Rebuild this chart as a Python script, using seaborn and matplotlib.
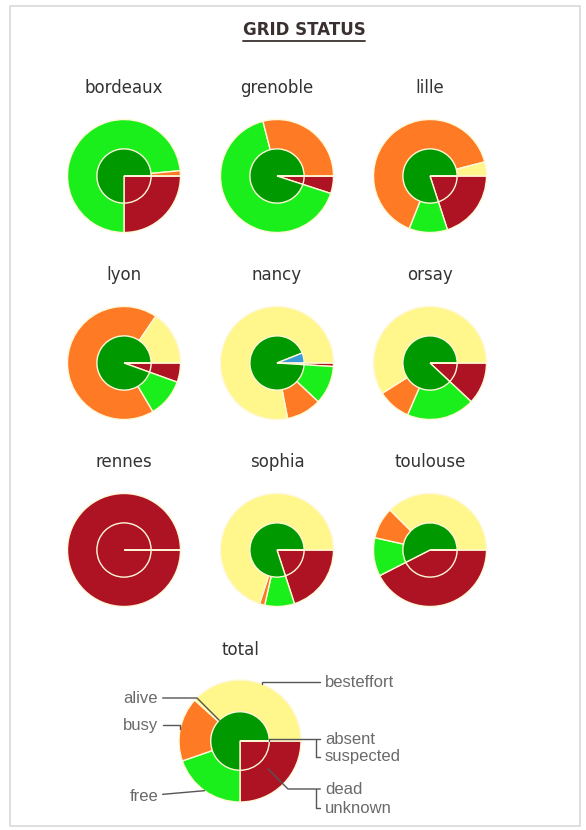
import numpy as np
import matplotlib
matplotlib.use("Agg")

import matplotlib.pyplot as plt
from matplotlib.lines import Line2D
from matplotlib.patches import Rectangle
import seaborn as sns

# Node shares (percent), read clockwise from 3 o'clock.
SITES = ["bordeaux", "grenoble", "lille", "lyon", "nancy",
         "orsay", "rennes", "sophia", "toulouse"]
DEAD = [25, 5, 20, 5.5, 1, 12, 100, 20, 42.5]
FREE = [73.5, 66, 11, 11, 11, 19.5, 0, 8.5, 11]
BUSY = [1.5, 29, 65, 68, 10, 9.5, 0, 1.5, 9]
BESTEFFORT = [0, 0, 4, 15.5, 78, 59, 0, 70, 37.5]
ABSENT = [0, 0, 0, 0, 6, 0, 0, 0, 0]
SUSPECTED = [0, 0, 0, 0, 0, 0, 0, 0, 0]

TOTAL_DEAD = 25
TOTAL_FREE = 19.7
TOTAL_BUSY = 17
TOTAL_BESTEFFORT = 38.3
TOTAL_ABSENT = 0
TOTAL_SUSPECTED = 0

C_DEAD = "#ad1322"
C_FREE = "#1bef1b"
C_BUSY = "#ff7a24"
C_BESTEFFORT = "#fff68c"
C_ALIVE = "#009a00"
C_ABSENT = "#3b9bd8"
C_SUSPECTED = "#d06010"
EDGE = "#fff8d8"

OUTER_COLORS = [C_DEAD, C_FREE, C_BUSY, C_BESTEFFORT]
INNER_COLORS = [C_DEAD, C_ALIVE, C_ABSENT, C_SUSPECTED]

W, H = 586, 830
R_IN = 0.48


def fx(x):
    return x / W


def fy(y):
    return 1 - y / H


def draw_pie(fig, cx, cy, r, outer, inner):
    side = 2 * r * 1.05
    ax = fig.add_axes([fx(cx - side / 2), fy(cy + side / 2), side / W, side / H])
    wp = dict(edgecolor=EDGE, linewidth=1.0)
    w_out, _ = ax.pie(outer, colors=OUTER_COLORS, radius=1, startangle=0,
                      counterclock=False, wedgeprops=wp)
    w_in, _ = ax.pie(inner, colors=INNER_COLORS, radius=R_IN, startangle=0,
                     counterclock=False, wedgeprops=wp)
    ax.set_xlim(-1.05, 1.05)
    ax.set_ylim(-1.05, 1.05)
    ax.set_aspect("equal")
    ax.axis("off")
    return ax, w_out, w_in


def mid_point(wedge, frac=1.0):
    a = np.deg2rad((wedge.theta1 + wedge.theta2) / 2)
    return wedge.r * frac * np.cos(a), wedge.r * frac * np.sin(a)


def main() -> None:
    sns.set_theme(style="white")
    plt.rcParams["font.family"] = ["DejaVu Sans"]

    fig = plt.figure(figsize=(W / 100, H / 100), dpi=100)
    fig.patch.set_facecolor("white")

    fig.add_artist(Rectangle((fx(10), fy(826)), (580 - 10) / W, (826 - 6) / H,
                             transform=fig.transFigure, fill=False,
                             edgecolor="#d9d9d9", linewidth=1.2))

    title = fig.text(fx(304), fy(30), "GRID STATUS", ha="center", va="center",
                     fontsize=12, fontweight="bold", color="#3a3030")

    col_x = [124, 277, 430]
    row_y = [176, 363, 550]
    title_y = [88, 275, 462]
    for i, site in enumerate(SITES):
        cx, cy = col_x[i % 3], row_y[i // 3]
        outer = [DEAD[i], FREE[i], BUSY[i], BESTEFFORT[i]]
        alive = 100 - DEAD[i] - ABSENT[i] - SUSPECTED[i]
        inner = [DEAD[i], alive, ABSENT[i], SUSPECTED[i]]
        draw_pie(fig, cx, cy, 56.5, outer, inner)
        fig.text(fx(cx), fy(title_y[i // 3]), site, ha="center", va="center",
                 fontsize=12, color="#333333")

    # total pie with labelled leader lines
    outer = [TOTAL_DEAD, TOTAL_FREE, TOTAL_BUSY, TOTAL_BESTEFFORT]
    alive = 100 - TOTAL_DEAD - TOTAL_ABSENT - TOTAL_SUSPECTED
    inner = [TOTAL_DEAD, alive, TOTAL_ABSENT, TOTAL_SUSPECTED]
    ax, w_out, w_in = draw_pie(fig, 240, 741, 61, outer, inner)
    fig.text(fx(240), fy(650), "total", ha="center", va="center",
             fontsize=12, color="#333333")

    lab = dict(fontsize=12, color="#6a6a6a", family=["Liberation Sans", "DejaVu Sans"],
               textcoords="figure fraction", va="center")
    line = dict(arrowstyle="-", color="#555555", lw=1.0, shrinkA=1, shrinkB=0)

    ax.annotate("alive", xy=mid_point(w_in[1]), xytext=(fx(158), fy(698)), ha="right",
                arrowprops=dict(line, connectionstyle="angle,angleA=0,angleB=-45,rad=0"), **lab)
    ax.annotate("busy", xy=mid_point(w_out[2]), xytext=(fx(158), fy(725)), ha="right",
                arrowprops=dict(line, connectionstyle="angle,angleA=0,angleB=90,rad=0"), **lab)
    ax.annotate("free", xy=mid_point(w_out[1]), xytext=(fx(158), fy(796)), ha="right",
                arrowprops=dict(line, connectionstyle="arc3"), **lab)
    ax.annotate("besteffort", xy=mid_point(w_out[3]), xytext=(fx(325), fy(682)), ha="left",
                arrowprops=dict(line, connectionstyle="angle,angleA=180,angleB=90,rad=0"), **lab)
    ax.annotate("absent", xy=mid_point(w_in[2]), xytext=(fx(325), fy(739)), ha="left",
                arrowprops=dict(line, connectionstyle="angle,angleA=180,angleB=90,rad=0"), **lab)
    ax.annotate("suspected", xy=(fx(316), fy(739)), xycoords="figure fraction",
                xytext=(fx(325), fy(757)), ha="left",
                arrowprops=dict(line, relpos=(0, 0.5),
                                connectionstyle="angle,angleA=180,angleB=90,rad=0"), **lab)
    ax.annotate("dead", xy=mid_point(w_in[0], 1.35), xytext=(fx(325), fy(789)), ha="left",
                arrowprops=dict(line, connectionstyle="angle,angleA=180,angleB=-45,rad=0"), **lab)
    ax.annotate("unknown", xy=(fx(316), fy(789)), xycoords="figure fraction",
                xytext=(fx(325), fy(808)), ha="left",
                arrowprops=dict(line, relpos=(0, 0.5),
                                connectionstyle="angle,angleA=180,angleB=90,rad=0"), **lab)

    # underline the title
    fig.canvas.draw()
    bb = title.get_window_extent().transformed(fig.transFigure.inverted())
    fig.add_artist(Line2D([bb.x0, bb.x1], [bb.y0 - 0.002, bb.y0 - 0.002],
                          transform=fig.transFigure, color="#3a3030", lw=1.3))

    fig.savefig("out.png", dpi=100, facecolor="white")
    plt.close(fig)


if __name__ == "__main__":
    main()
